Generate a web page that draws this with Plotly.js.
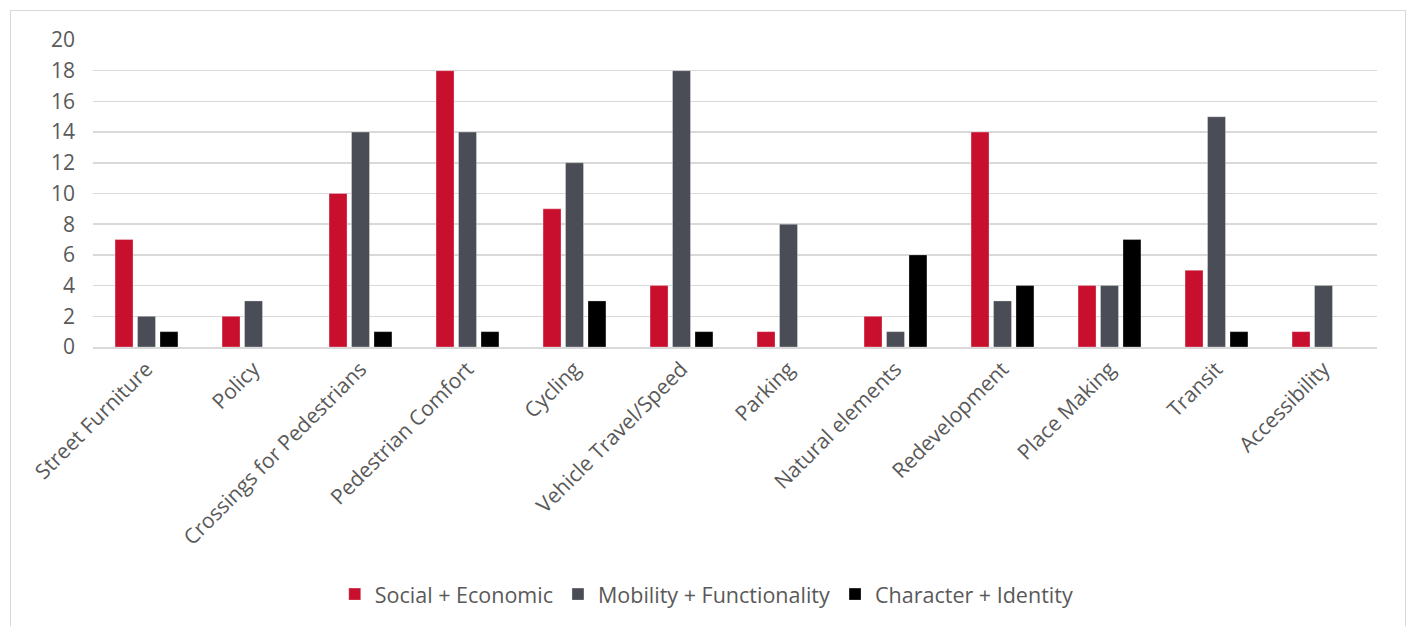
<!DOCTYPE html>
<html>
<head>
<meta charset="utf-8">
<script src="https://cdn.plot.ly/plotly-3.0.1.min.js"></script>
<style>
html,body{margin:0;padding:0;background:#fff;}
#frame{position:absolute;left:10px;top:10px;width:1396px;height:630px;border:1.5px solid #d9d9d9;box-sizing:border-box;}
#chart{position:absolute;left:0;top:0;width:1413px;height:626px;}
</style>
</head>
<body>
<div id="frame"></div>
<div id="chart"></div>
<script>
const categories = ["Street Furniture","Policy","Crossings for Pedestrians","Pedestrian Comfort","Cycling","Vehicle Travel/Speed","Parking","Natural elements","Redevelopment","Place Making","Transit","Accessibility"];
const seriesNames = ["Social + Economic","Mobility + Functionality","Character + Identity"];
const socialEconomic = [7,2,10,18,9,4,1,2,14,4,5,1];
const mobilityFunctionality = [2,3,14,14,12,18,8,1,3,4,15,4];
const characterIdentity = [1,null,1,1,3,1,null,6,4,7,1,null];
const yTicks = [0,2,4,6,8,10,12,14,16,18,20];

const colors = ["#C8102E","#4A4D55","#000000"];
const values = [socialEconomic, mobilityFunctionality, characterIdentity];
const font = "'Open Sans', sans-serif";

const traces = values.map((v,i)=>({
  type:"bar", name:seriesNames[i], x:categories, y:v,
  marker:{color:colors[i], line:{color:"rgba(255,255,255,0.6)", width:0.5}},
  hoverinfo:"x+y+name"
}));

const layout = {
  width:1413, height:626,
  paper_bgcolor:"rgba(0,0,0,0)", plot_bgcolor:"rgba(0,0,0,0)",
  margin:{l:93, r:36, t:40, b:279},
  barmode:"group", bargap:0.37, bargroupgap:0.2,
  font:{family:font, color:"#595959", size:18},
  xaxis:{type:"category", tickangle:-45, tickfont:{size:21, color:"#595959"},
         showgrid:false, showline:true, linecolor:"#d9d9d9", linewidth:1.5, ticks:"", automargin:false},
  yaxis:{range:[0,20], tickvals:yTicks, tickfont:{size:21, color:"#595959"},
         showgrid:true, gridcolor:"#d9d9d9", gridwidth:1.5, zeroline:false, showline:false, ticks:"", ticklabelstandoff:17},
  showlegend:true,
  legend:{orientation:"h", x:0.478, xanchor:"center", y:-0.805, yanchor:"middle",
          font:{size:21.5, color:"#595959"}, itemwidth:30, traceorder:"normal"}
};

Plotly.newPlot("chart", traces, layout, {displayModeBar:false, staticPlot:true});
</script>
</body>
</html>
